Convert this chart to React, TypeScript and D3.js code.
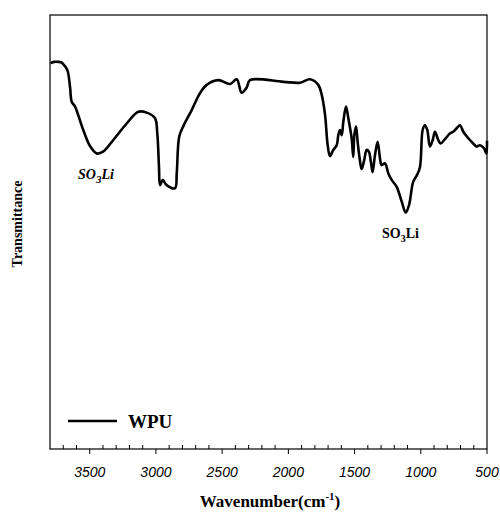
import React from "react";
import * as d3 from "d3";

// FTIR spectrum of WPU: wavenumber (cm^-1) and transmittance (arbitrary %)
const wavenumbers = [
  3796, 3770, 3737, 3717, 3700, 3669, 3649, 3636, 3611, 3549, 3498, 3447, 3400,
  3322, 3221, 3133, 3070, 3007, 2990, 2977, 2969, 2949, 2919, 2856, 2843, 2824,
  2793, 2730, 2667, 2617, 2529, 2441, 2390, 2353, 2315, 2290, 2038, 1912, 1837,
  1774, 1748, 1723, 1703, 1686, 1661, 1635, 1623, 1610, 1597, 1585, 1565, 1547,
  1522, 1510, 1502, 1489, 1477, 1465, 1447, 1427, 1409, 1392, 1377, 1364, 1346,
  1326, 1308, 1296, 1270, 1245, 1220, 1182, 1144, 1114, 1089, 1057, 1029, 1006,
  986, 969, 951, 931, 910, 893, 868, 850, 817, 780, 755, 729, 704, 679, 641, 604,
  578, 553, 523, 505, 500,
];
const transmittance = [
  88.9, 89.2, 89.2, 89.1, 88.7, 87.3, 83.5, 80.0, 78.9, 73.5, 69.8, 68.1, 68.5,
  71.2, 75.0, 77.7, 77.5, 76.2, 72.8, 65.0, 60.8, 62.0, 60.8, 60.1, 63.5, 72.0,
  74.4, 78.1, 82.0, 83.9, 85.0, 84.1, 85.2, 82.1, 83.3, 85.0, 84.6, 84.4, 85.2,
  83.9, 81.6, 77.0, 70.0, 67.5, 68.9, 70.0, 72.3, 73.5, 72.3, 75.4, 78.9, 76.2,
  71.6, 67.3, 72.3, 74.3, 70.8, 67.7, 64.5, 66.6, 68.9, 68.5, 66.2, 63.8, 67.7,
  70.8, 67.0, 65.4, 65.8, 63.5, 62.0, 60.4, 57.0, 54.5, 56.2, 61.6, 63.1, 65.0,
  73.5, 74.6, 73.5, 69.7, 71.2, 73.1, 71.2, 70.4, 71.4, 72.7, 73.1, 73.9, 74.6,
  73.1, 71.6, 70.4, 69.7, 70.0, 69.3, 68.1, 71.0,
];

const majorTicks = [3500, 3000, 2500, 2000, 1500, 1000, 500];
const minorTicks = d3.range(600, 3800, 100).filter((v) => v % 500 !== 0);

const seriesName = "WPU";
const xTitle = "Wavenumber(cm";
const yTitle = "Transmittance";

const W = 500;
const H = 514;
const left = 50;
const right = 487;
const top = 15;
const bottom = 449;

export default function App() {
  const x = d3.scaleLinear().domain([3800, 500]).range([left, right]);
  const y = d3.scaleLinear().domain([0, 100]).range([bottom, top]);

  const points: [number, number][] = wavenumbers.map((w, i) => [w, transmittance[i]]);
  const line = d3
    .line<[number, number]>()
    .x((d) => x(d[0]))
    .y((d) => y(d[1]))
    .curve(d3.curveCatmullRom.alpha(0.5));

  const serif = "'Liberation Serif', 'Times New Roman', serif";
  const sans = "'Liberation Sans', Arial, sans-serif";

  return (
    <svg
      width={W}
      height={H}
      style={{ position: "absolute", left: 0, top: 0, background: "#fff" }}
    >
      {/* plot frame */}
      <rect
        x={left}
        y={top}
        width={right - left}
        height={bottom - top}
        fill="none"
        stroke="#000"
        strokeWidth={1.2}
      />

      {/* bottom axis ticks */}
      {minorTicks.map((t) => (
        <line key={"m" + t} x1={x(t)} x2={x(t)} y1={bottom} y2={bottom - 4} stroke="#000" strokeWidth={1} />
      ))}
      {majorTicks.map((t) => (
        <line key={"M" + t} x1={x(t)} x2={x(t)} y1={bottom} y2={bottom + 5} stroke="#000" strokeWidth={1} />
      ))}
      {majorTicks.map((t) => (
        <text
          key={"l" + t}
          x={x(t)}
          y={477}
          textAnchor="middle"
          fontFamily={sans}
          fontStyle="italic"
          fontSize={14}
          fill="#000"
        >
          {t}
        </text>
      ))}

      {/* spectrum */}
      <path d={line(points) ?? ""} fill="none" stroke="#000" strokeWidth={2.6} strokeLinejoin="round" />

      {/* band annotations */}
      <text x={78} y={179} fontFamily={serif} fontWeight="bold" fontStyle="italic" fontSize={14}>
        SO<tspan dy={4} fontSize={11}>3</tspan>
        <tspan dy={-4}>Li</tspan>
      </text>
      <text x={382} y={238} fontFamily={serif} fontWeight="bold" fontSize={14}>
        SO<tspan dy={4} fontSize={10}>3</tspan>
        <tspan dy={-4}>Li</tspan>
      </text>

      {/* legend */}
      <line x1={68} x2={117} y1={421} y2={421} stroke="#000" strokeWidth={2.4} />
      <text x={128} y={428} fontFamily={serif} fontWeight="bold" fontSize={19}>
        {seriesName}
      </text>

      {/* axis titles */}
      <text x={270} y={507} textAnchor="middle" fontFamily={serif} fontWeight="bold" fontSize={17}>
        {xTitle}
        <tspan dy={-7} fontSize={11}>-1</tspan>
        <tspan dy={7}>)</tspan>
      </text>
      <text
        transform={`translate(22, 224) rotate(-90)`}
        textAnchor="middle"
        fontFamily={serif}
        fontWeight="bold"
        fontSize={14}
      >
        {yTitle}
      </text>
    </svg>
  );
}
